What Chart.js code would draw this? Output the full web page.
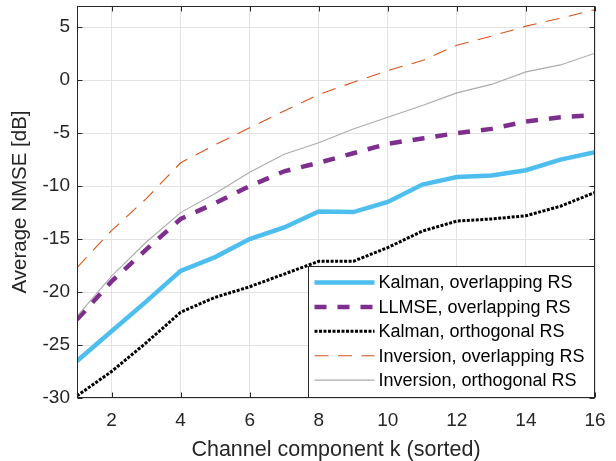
<!DOCTYPE html>
<html>
<head>
<meta charset="utf-8">
<script src="https://cdn.jsdelivr.net/npm/chart.js@4.4.1/dist/chart.umd.min.js"></script>
<style>
html,body{margin:0;padding:0;background:#ffffff;}
#wrap{width:616px;height:461px;}
</style>
</head>
<body>
<div id="wrap"><canvas id="c" width="616" height="461"></canvas></div>
<script>
// ---- data ----
const kValues = [1, 2, 3, 4, 5, 6, 7, 8, 9, 10, 11, 12, 13, 14, 15, 16];
const kalmanOverlapping   = [-26.5, -23.7, -20.9, -18.0, -16.7, -15.0, -13.9, -12.4, -12.45, -11.5, -9.85, -9.15, -9.0, -8.5, -7.5, -6.8];
const llmseOverlapping    = [-22.6, -19.0, -16.0, -13.1, -11.6, -10.0, -8.6, -7.8, -6.9, -6.0, -5.5, -5.0, -4.6, -3.9, -3.5, -3.3];
const kalmanOrthogonal    = [-29.8, -27.5, -24.8, -21.9, -20.5, -19.5, -18.3, -17.1, -17.1, -15.8, -14.25, -13.3, -13.1, -12.8, -11.9, -10.6];
const inversionOverlapping= [-17.7, -14.2, -11.2, -7.8, -6.1, -4.5, -2.9, -1.35, -0.2, 0.9, 1.85, 3.3, 4.15, 5.1, 5.85, 6.65];
const inversionOrthogonal = [-22.3, -18.5, -15.3, -12.5, -10.7, -8.7, -7.0, -5.9, -4.6, -3.5, -2.4, -1.2, -0.4, 0.78, 1.44, 2.54];
const seriesLabels = ['Kalman, overlapping RS', 'LLMSE, overlapping RS', 'Kalman, orthogonal RS', 'Inversion, overlapping RS', 'Inversion, orthogonal RS'];
const xTickValues = [2, 4, 6, 8, 10, 12, 14, 16];
const yTickValues = [-30, -25, -20, -15, -10, -5, 0, 5];
const xTitle = 'Channel component k (sorted)';
const yTitle = 'Average NMSE [dB]';

const FONT = "'Liberation Sans', Arial, Helvetica, sans-serif";
const TXT = '#262626';

function pts(arr){ return arr.map((v,i)=>({x:kValues[i], y:v})); }

const datasets = [
  {label: seriesLabels[0], data: pts(kalmanOverlapping), borderColor:'#4DBEEE', borderWidth:4.5, borderDash:[], order:4},
  {label: seriesLabels[1], data: pts(llmseOverlapping), borderColor:'#7E2F8E', borderWidth:4.5, borderDash:[12,11], order:3},
  {label: seriesLabels[2], data: pts(kalmanOrthogonal), borderColor:'#000000', borderWidth:3, borderDash:[3,1.5], order:2},
  {label: seriesLabels[3], data: pts(inversionOverlapping), borderColor:'#D95319', borderWidth:1.1, borderDash:[14,9.5], order:1},
  {label: seriesLabels[4], data: pts(inversionOrthogonal), borderColor:'#ABABAB', borderWidth:1.1, borderDash:[], order:0}
];

const framePlugin = {
  id: 'frame',
  afterDatasetsDraw(chart){
    const {ctx, chartArea:a, scales:{x, y}} = chart;
    ctx.save();
    ctx.strokeStyle = TXT;
    ctx.lineWidth = 1;
    ctx.setLineDash([]);
    const L = Math.round(a.left)+0.5, R = Math.round(a.right)-0.5, T = Math.round(a.top)+0.5, B = Math.round(a.bottom)-0.5;
    ctx.strokeRect(L, T, R-L, B-T);
    const tl = 5;
    ctx.beginPath();
    xTickValues.forEach(v=>{
      const px = Math.round(x.getPixelForValue(v))+0.5;
      ctx.moveTo(px, B); ctx.lineTo(px, B-tl);
      ctx.moveTo(px, T); ctx.lineTo(px, T+tl);
    });
    yTickValues.forEach(v=>{
      const py = Math.round(y.getPixelForValue(v))+0.5;
      ctx.moveTo(L, py); ctx.lineTo(L+tl, py);
      ctx.moveTo(R, py); ctx.lineTo(R-tl, py);
    });
    ctx.stroke();
    ctx.restore();
  },
  afterDraw(chart){
    const {ctx, chartArea:a} = chart;
    const w = 286, h = 131;
    const bx = Math.round(a.right) - w - 0.5, by = Math.round(a.bottom) - h - 0.5;
    ctx.save();
    ctx.fillStyle = '#ffffff';
    ctx.fillRect(bx, by, w, h);
    ctx.strokeStyle = TXT;
    ctx.lineWidth = 1;
    ctx.setLineDash([]);
    ctx.strokeRect(bx, by, w, h);
    const rowH = 24.4;
    ctx.font = '18px ' + FONT;
    ctx.textBaseline = 'middle';
    ctx.textAlign = 'left';
    chart.data.datasets.forEach((ds, i)=>{
      const cy = by + 16 + i*rowH;
      ctx.save();
      ctx.strokeStyle = ds.borderColor;
      ctx.lineWidth = ds.borderWidth;
      ctx.setLineDash(ds.borderDash || []);
      ctx.beginPath();
      ctx.moveTo(bx + 6, cy);
      ctx.lineTo(bx + 66, cy);
      ctx.stroke();
      ctx.restore();
      ctx.fillStyle = '#000000';
      ctx.fillText(ds.label, bx + 70, cy + 1);
    });
    ctx.restore();
  }
};

new Chart(document.getElementById('c'), {
  type: 'line',
  data: {datasets},
  plugins: [framePlugin],
  options: {
    responsive: false,
    animation: false,
    devicePixelRatio: 1,
    layout: {padding: {left:0, top:6, right:21, bottom:0}},
    elements: {point:{radius:0}, line:{tension:0, fill:false, borderCapStyle:'butt', borderJoinStyle:'miter'}},
    plugins: {legend:{display:false}, tooltip:{enabled:false}},
    scales: {
      x: {
        type: 'linear', min: 1, max: 16,
        afterBuildTicks: s => { s.ticks = xTickValues.map(v=>({value:v})); },
        afterFit: s => { s.height = 63; s.paddingLeft = 0; s.paddingRight = 0; },
        grid: {color:'#e3e3e3', lineWidth:1, drawTicks:false},
        border: {display:false},
        ticks: {font:{family:FONT, size:19}, color:TXT, padding:11, maxRotation:0, autoSkip:false},
        title: {display:true, text:xTitle, font:{family:FONT, size:21.5, lineHeight:1}, color:TXT, padding:{top:0,bottom:0}}
      },
      y: {
        type: 'linear', min: -30, max: 7,
        afterBuildTicks: s => { s.ticks = yTickValues.map(v=>({value:v})); },
        afterFit: s => { s.width = 77; s.paddingTop = 0; s.paddingBottom = 0; },
        grid: {color:'#e3e3e3', lineWidth:1, drawTicks:false},
        border: {display:false},
        ticks: {font:{family:FONT, size:19}, color:TXT, padding:7, autoSkip:false},
        title: {display:true, text:yTitle, font:{family:FONT, size:20.5}, color:TXT, padding:{top:8,bottom:0}}
      }
    }
  }
});
</script>
</body>
</html>
